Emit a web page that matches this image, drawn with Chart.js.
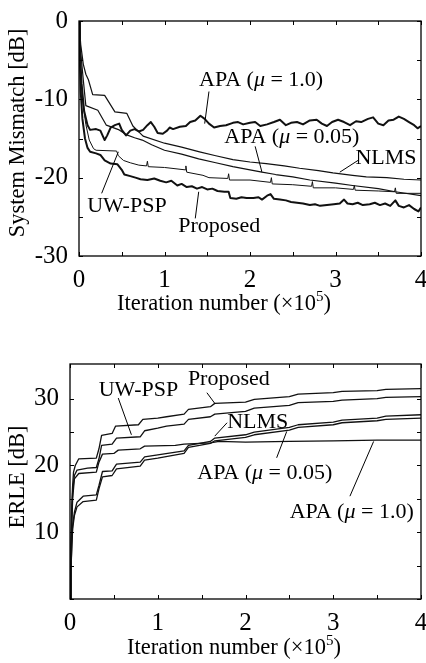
<!DOCTYPE html>
<html>
<head>
<meta charset="utf-8">
<script src="https://cdn.jsdelivr.net/npm/chart.js@4"></script>
<style>
  body { margin: 0; background: #fff; }
  #wrap { position: relative; width: 426px; height: 663px; }
  canvas { position: absolute; left: 0; }
</style>
</head>
<body>
<div id="wrap">
  <canvas id="misChart" width="426" height="330" style="top:0"></canvas>
  <canvas id="erleChart" width="426" height="333" style="top:330px"></canvas>
</div>
<script>
// x values in units of 1e5 iterations
const xTickLabels = [0, 1, 2, 3, 4];
const misTickLabels = [0, -10, -20, -30];
const erleTickLabels = [10, 20, 30];

// ---- System mismatch [dB] ----
const misApa1X = [0, 0.01, 0.03, 0.06, 0.1, 0.13, 0.2, 0.25, 0.3, 0.33, 0.37, 0.42, 0.47, 0.5, 0.55, 0.6, 0.65, 0.7, 0.75, 0.8, 0.84, 0.88, 0.92, 0.98, 1.03, 1.06, 1.1, 1.18, 1.25, 1.3, 1.36, 1.42, 1.47, 1.52, 1.58, 1.65, 1.72, 1.8, 1.86, 1.92, 2.0, 2.06, 2.12, 2.2, 2.28, 2.35, 2.42, 2.48, 2.55, 2.62, 2.7, 2.78, 2.84, 2.9, 2.96, 3.03, 3.1, 3.17, 3.24, 3.3, 3.38, 3.44, 3.5, 3.56, 3.62, 3.68, 3.74, 3.8, 3.86, 3.92, 3.96, 4.0];
const misApa1Y = [0, -4, -8, -11.5, -13.3, -13.9, -13.8, -14.0, -15.2, -14.6, -13.6, -13.3, -13.1, -13.9, -14.6, -14.0, -13.8, -14.1, -13.9, -13.3, -12.9, -13.5, -14.3, -14.4, -14.0, -13.6, -13.8, -13.5, -13.4, -12.9, -12.7, -12.1, -12.5, -13.1, -13.6, -13.4, -13.3, -13.0, -12.9, -13.2, -13.0, -12.9, -13.4, -13.2, -12.9, -12.6, -13.3, -13.0, -12.9, -13.2, -12.7, -12.6, -13.1, -13.4, -12.9, -12.6, -12.9, -13.3, -12.8, -12.9, -12.5, -12.3, -13.1, -13.3, -12.7, -12.6, -12.2, -12.5, -12.9, -13.3, -13.7, -13.4];

const misApa005X = [0, 0.02, 0.05, 0.08, 0.22, 0.32, 0.47, 0.55, 0.65, 0.74, 0.85, 1.0, 1.2, 1.4, 1.6, 1.8, 2.0, 2.14, 2.3, 2.5, 2.7, 3.0, 3.2, 3.5, 3.7, 4.0];
const misApa005Y = [0, -4, -7.5, -10.8, -11.4, -13.3, -13.9, -14.5, -14.9, -15.2, -15.8, -16.5, -17.0, -17.6, -18.1, -18.6, -19.0, -19.3, -19.6, -19.9, -20.3, -20.7, -21.0, -21.4, -21.8, -22.3];

const misNlmsX = [0, 0.02, 0.05, 0.08, 0.11, 0.16, 0.3, 0.42, 0.56, 0.63, 0.75, 1.0, 1.2, 1.41, 1.6, 1.8, 2.0, 2.19, 2.4, 2.58, 2.8, 2.97, 3.2, 3.36, 3.6, 3.8, 4.0];
const misNlmsY = [0, -3, -5.5, -6.8, -7.5, -9.4, -9.5, -11.6, -11.8, -13.4, -14.7, -15.6, -16.1, -16.7, -17.2, -17.7, -18.0, -18.2, -18.5, -18.8, -19.1, -19.4, -19.7, -19.9, -20.0, -20.2, -20.3];

const misUwX = [0, 0.02, 0.04, 0.08, 0.12, 0.17, 0.2, 0.44, 0.46, 0.52, 0.6, 0.7, 0.79, 0.8, 0.81, 1.0, 1.24, 1.25, 1.26, 1.45, 1.52, 1.74, 1.75, 1.76, 2.0, 2.24, 2.25, 2.26, 2.5, 2.72, 2.73, 2.74, 3.0, 3.21, 3.22, 3.23, 3.5, 3.69, 3.7, 3.71, 4.0];
const misUwY = [0, -6, -10, -13.2, -15.2, -16.3, -16.5, -16.6, -17.2, -17.8, -18.1, -18.4, -18.5, -17.9, -18.6, -18.7, -19.0, -18.5, -19.3, -19.7, -20.0, -20.1, -19.5, -20.3, -20.3, -20.6, -20.0, -20.8, -20.9, -21.1, -20.5, -21.3, -21.3, -21.5, -21.0, -21.6, -21.7, -21.8, -21.3, -22.0, -22.0];

const misPropX = [0, 0.01, 0.02, 0.04, 0.07, 0.1, 0.13, 0.2, 0.25, 0.3, 0.37, 0.45, 0.5, 0.53, 0.6, 0.66, 0.72, 0.8, 0.88, 0.95, 1.02, 1.08, 1.15, 1.2, 1.26, 1.32, 1.38, 1.44, 1.5, 1.56, 1.62, 1.7, 1.75, 1.77, 1.84, 1.9, 1.96, 2.04, 2.1, 2.14, 2.2, 2.24, 2.28, 2.35, 2.42, 2.48, 2.55, 2.62, 2.7, 2.76, 2.82, 2.9, 2.98, 3.05, 3.1, 3.14, 3.2, 3.26, 3.32, 3.4, 3.46, 3.52, 3.58, 3.64, 3.7, 3.74, 3.8, 3.86, 3.92, 3.97, 4.0];
const misPropY = [0, -5, -9, -12.5, -15, -16.2, -16.7, -16.9, -17.1, -17.8, -18.2, -18.3, -19.0, -19.6, -19.8, -20.0, -20.2, -20.3, -20.1, -20.4, -20.6, -20.4, -21.0, -20.8, -21.2, -21.1, -21.4, -21.2, -21.5, -21.4, -21.7, -21.8, -21.8, -22.6, -22.7, -22.5, -22.6, -22.6, -22.5, -22.8, -22.3, -22.1, -22.7, -22.8, -22.9, -23.1, -23.2, -23.3, -23.5, -23.4, -23.6, -23.5, -23.4, -23.3, -22.8, -23.3, -23.4, -23.2, -23.5, -23.4, -23.2, -23.5, -23.3, -23.6, -22.9, -23.6, -23.8, -23.5, -24.0, -24.3, -23.8];

// ---- ERLE [dB] ----
const erlePropX = [0, 0.01, 0.02, 0.03, 0.04, 0.06, 0.1, 0.3, 0.33, 0.36, 0.48, 0.52, 0.78, 0.83, 1.0, 1.1, 1.3, 1.35, 1.6, 1.65, 2.0, 2.1, 2.5, 2.6, 3.0, 3.1, 3.5, 3.6, 4.0];
const erlePropY = [0, 8, 14, 17, 19, 20, 21, 21.1, 22.5, 24.5, 24.8, 25.9, 26.1, 26.9, 27.1, 27.3, 27.7, 28.4, 28.8, 29.3, 29.5, 29.9, 30.3, 30.7, 30.9, 31.1, 31.2, 31.4, 31.5];

const erleUwX = [0, 0.01, 0.02, 0.03, 0.05, 0.08, 0.2, 0.3, 0.33, 0.36, 0.48, 0.53, 0.8, 0.85, 1.0, 1.1, 1.3, 1.35, 1.6, 1.65, 2.0, 2.1, 2.5, 2.6, 3.0, 3.1, 3.5, 3.6, 4.0];
const erleUwY = [0, 6, 12, 16, 18.5, 19.3, 19.6, 19.7, 21, 23, 23.2, 24.1, 24.3, 25.2, 25.6, 25.9, 26.2, 26.9, 27.3, 27.7, 28.1, 28.6, 29.0, 29.4, 29.6, 29.8, 30.0, 30.2, 30.3];

const erleApa1X = [0, 0.01, 0.02, 0.03, 0.05, 0.1, 0.3, 0.33, 0.37, 0.5, 0.55, 0.8, 0.85, 1.2, 1.3, 1.6, 1.7, 2.0, 2.5, 3.0, 3.5, 4.0];
const erleApa1Y = [0, 5, 11, 15, 18, 18.8, 19.0, 20.5, 21.7, 21.8, 22.3, 22.5, 22.9, 23.0, 23.2, 23.4, 23.6, 23.5, 23.6, 23.7, 23.8, 23.8];

const erleStepX = [0, 0.01, 0.02, 0.03, 0.05, 0.08, 0.15, 0.3, 0.33, 0.37, 0.48, 0.53, 0.8, 0.85, 1.0, 1.3, 1.35, 1.6, 1.65, 2.0, 2.1, 2.5, 2.6, 3.0, 3.1, 3.5, 3.6, 4.0];
const erleNlmsY = [0, 4, 8, 11, 13, 14.5, 15.4, 15.6, 17, 19.1, 19.2, 20.2, 20.5, 21.3, 21.6, 22.2, 23.0, 23.6, 24.1, 24.6, 25.0, 25.7, 26.1, 26.5, 26.8, 27.1, 27.4, 27.6];
const erleApa005Y = [0, 4, 7.5, 10.5, 12.5, 13.8, 14.6, 14.8, 16.5, 18.3, 18.5, 19.5, 19.9, 20.8, 21.1, 21.8, 22.7, 23.3, 23.7, 24.2, 24.6, 25.3, 25.7, 26.1, 26.4, 26.7, 26.9, 27.1];

const serif = '"Liberation Serif", "Times New Roman", serif';

function pts(xs, ys) {
  return xs.map((x, i) => ({ x: x, y: ys[i] }));
}

function line(data, width) {
  return { data: data, borderColor: '#111', borderWidth: width, pointRadius: 0, tension: 0, fill: false, borderJoinStyle: 'round' };
}

// draw a run of text pieces (normal / italic / superscript), centred on cx
function drawPieces(ctx, pieces, cx, baseY) {
  let w = 0;
  pieces.forEach(p => { ctx.font = p.font; w += ctx.measureText(p.t).width; });
  let x = cx - w / 2;
  ctx.textAlign = 'left';
  ctx.textBaseline = 'alphabetic';
  pieces.forEach(p => {
    ctx.font = p.font;
    ctx.fillText(p.t, x, baseY + (p.dy || 0));
    x += ctx.measureText(p.t).width;
  });
}

function noteText(name, mu) {
  const f = '22px ' + serif;
  if (!mu) return [{ t: name, font: f }];
  return [{ t: name + ' (', font: f }, { t: 'μ', font: 'italic ' + f }, { t: ' = ' + mu + ')', font: f }];
}

const titleFont = '22.5px ' + serif;
const xTitle = [{ t: 'Iteration number (×10', font: titleFont }, { t: '5', font: '15px ' + serif, dy: -9 }, { t: ')', font: titleFont }];

const framePlugin = {
  id: 'frame',
  afterDraw(chart, args, opts) {
    const ctx = chart.ctx, a = chart.chartArea, xs = chart.scales.x, ys = chart.scales.y;
    ctx.save();
    ctx.strokeStyle = '#000';
    ctx.fillStyle = '#000';
    ctx.lineWidth = 1.3;
    ctx.strokeRect(a.left, a.top, a.right - a.left, a.bottom - a.top);
    ctx.lineWidth = 1;
    ctx.beginPath();
    xs.ticks.forEach(t => {
      const p = Math.round(xs.getPixelForValue(t.value)) + 0.5;
      ctx.moveTo(p, a.bottom); ctx.lineTo(p, a.bottom - 4);
      ctx.moveTo(p, a.top); ctx.lineTo(p, a.top + 4);
    });
    ys.ticks.forEach(t => {
      const p = Math.round(ys.getPixelForValue(t.value)) + 0.5;
      ctx.moveTo(a.left, p); ctx.lineTo(a.left + 4, p);
      ctx.moveTo(a.right, p); ctx.lineTo(a.right - 4, p);
    });
    ctx.stroke();

    // annotations with leader lines
    (opts.notes || []).forEach(n => {
      ctx.beginPath();
      ctx.lineWidth = 1;
      ctx.moveTo(xs.getPixelForValue(n.from[0]), ys.getPixelForValue(n.from[1]));
      ctx.lineTo(xs.getPixelForValue(n.to[0]), ys.getPixelForValue(n.to[1]));
      ctx.stroke();
      drawPieces(ctx, noteText(n.name, n.mu), xs.getPixelForValue(n.at[0]), ys.getPixelForValue(n.at[1]));
    });

    // axis titles
    drawPieces(ctx, xTitle, opts.xTitleX, opts.xTitleY);
    ctx.translate(opts.yTitleX, opts.yTitleY);
    ctx.rotate(-Math.PI / 2);
    ctx.font = titleFont;
    ctx.textAlign = 'center';
    ctx.textBaseline = 'middle';
    ctx.fillText(opts.yTitle, 0, 0);
    ctx.restore();
  }
};

function makeOptions(cfg) {
  return {
    responsive: false,
    animation: false,
    layout: { padding: cfg.padding },
    plugins: { legend: { display: false }, tooltip: { enabled: false }, frame: cfg.frame },
    scales: {
      x: {
        type: 'linear', min: 0, max: 4,
        grid: { display: false }, border: { display: false },
        ticks: {
          stepSize: 0.5, padding: 1, color: '#000', autoSkip: false, maxRotation: 0,
          font: { family: serif, size: 25 },
          callback: v => xTickLabels.includes(v) ? String(v) : ''
        },
        afterFit: s => { s.height = cfg.xHeight; s.paddingLeft = 0; s.paddingRight = 0; }
      },
      y: {
        type: 'linear', min: cfg.yMin, max: cfg.yMax,
        grid: { display: false }, border: { display: false },
        ticks: {
          stepSize: 5, padding: 3, color: '#000', autoSkip: false,
          font: { family: serif, size: 25 },
          callback: v => cfg.yLabels.includes(v) ? String(v) : ''
        },
        afterBuildTicks: s => { s.ticks = s.ticks.filter(t => t.value % 5 === 0); },
        afterFit: s => { s.width = cfg.yWidth; s.paddingTop = 0; s.paddingBottom = 0; }
      }
    }
  };
}

new Chart(document.getElementById('misChart'), {
  type: 'line',
  data: {
    datasets: [
      line(pts(misNlmsX, misNlmsY), 1.2),
      line(pts(misApa005X, misApa005Y), 1.2),
      line(pts(misUwX, misUwY), 1),
      line(pts(misApa1X, misApa1Y), 2),
      line(pts(misPropX, misPropY), 2)
    ]
  },
  options: makeOptions({
    padding: { top: 21, right: 5, left: 0, bottom: 0 },
    xHeight: 74, yWidth: 79, yMin: -30, yMax: 0, yLabels: misTickLabels,
    frame: {
      yTitle: 'System Mismatch [dB]', yTitleX: 18, yTitleY: 133, xTitleX: 224, xTitleY: 310,
      notes: [
        { name: 'APA', mu: '1.0', at: [2.13, -8.3], from: [1.52, -9.0], to: [1.47, -13.1] },
        { name: 'APA', mu: '0.05', at: [2.49, -15.6], from: [2.06, -16.0], to: [2.14, -19.3] },
        { name: 'NLMS', at: [3.59, -18.2], from: [3.27, -17.75], to: [3.05, -19.3] },
        { name: 'UW-PSP', at: [0.56, -24.35], from: [0.265, -22.0], to: [0.46, -16.7] },
        { name: 'Proposed', at: [1.64, -26.9], from: [1.36, -25.2], to: [1.4, -21.8] }
      ]
    }
  }),
  plugins: [framePlugin]
});

new Chart(document.getElementById('erleChart'), {
  type: 'line',
  data: {
    datasets: [
      line(pts(erlePropX, erlePropY), 1.3),
      line(pts(erleUwX, erleUwY), 1.3),
      line(pts(erleStepX, erleNlmsY), 1.3),
      line(pts(erleStepX, erleApa005Y), 1.3),
      line(pts(erleApa1X, erleApa1Y), 1.3)
    ]
  },
  options: makeOptions({
    padding: { top: 34, right: 5, left: 0, bottom: 0 },
    xHeight: 64, yWidth: 70, yMin: 0, yMax: 35.2, yLabels: erleTickLabels,
    frame: {
      yTitle: 'ERLE [dB]', yTitleX: 18, yTitleY: 147, xTitleX: 234, xTitleY: 324,
      notes: [
        { name: 'UW-PSP', at: [0.78, 30.4], from: [0.55, 30.1], to: [0.7, 24.6] },
        { name: 'Proposed', at: [1.81, 32.0], from: [1.56, 30.9], to: [1.65, 29.3] },
        { name: 'NLMS', at: [2.14, 25.6], from: [1.79, 26.4], to: [1.65, 24.4] },
        { name: 'APA', mu: '0.05', at: [2.22, 18.0], from: [2.355, 21.15], to: [2.47, 25.1] },
        { name: 'APA', mu: '1.0', at: [3.21, 12.2], from: [3.19, 15.4], to: [3.46, 23.6] }
      ]
    }
  }),
  plugins: [framePlugin]
});
</script>
</body>
</html>
